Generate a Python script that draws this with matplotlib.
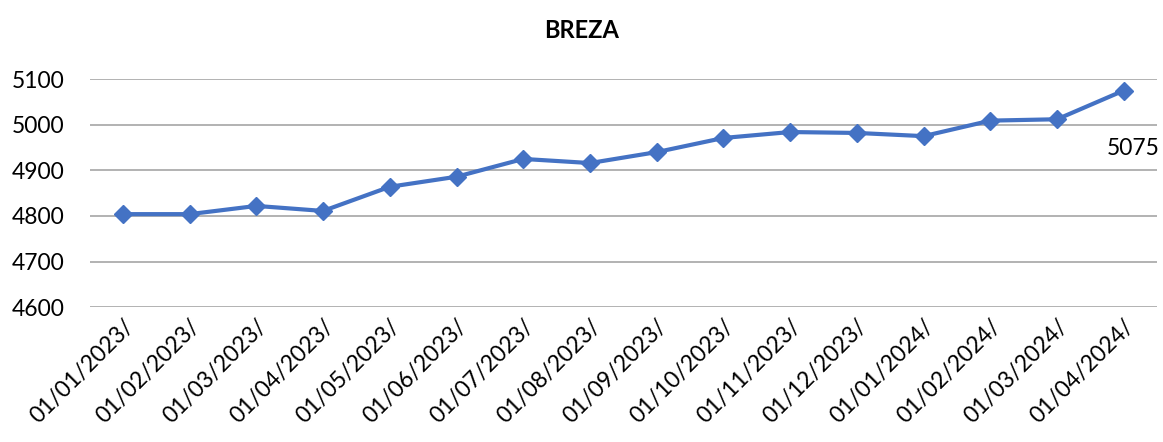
import matplotlib.pyplot as plt

dates = ['01/01/2023/', '01/02/2023/', '01/03/2023/', '01/04/2023/',
         '01/05/2023/', '01/06/2023/', '01/07/2023/', '01/08/2023/',
         '01/09/2023/', '01/10/2023/', '01/11/2023/', '01/12/2023/',
         '01/01/2024/', '01/02/2024/', '01/03/2024/', '01/04/2024/']
values = [4804, 4804, 4822, 4811, 4864, 4886, 4925, 4916,
          4940, 4971, 4984, 4982, 4975, 5009, 5012, 5075]

plt.rcParams['font.family'] = ['Lato', 'DejaVu Sans']

fig = plt.figure(figsize=(11.63, 4.42), dpi=100)
ax = fig.add_axes([0.077, 0.305, 0.918, 0.516])

x = list(range(len(values)))
ax.plot(x, values, '-D', color='#4472C4', linewidth=3, markersize=9)

ax.set_xlim(-0.5, len(values) - 0.5)
ax.set_ylim(4600, 5100)
ax.set_yticks([4600, 4700, 4800, 4900, 5000, 5100])
ax.set_xticks(x)
ax.set_xticklabels(dates, rotation=45, ha='right', rotation_mode='anchor')
ax.tick_params(axis='both', length=0, labelsize=16.5)
ax.tick_params(axis='x', pad=6)
ax.tick_params(axis='y', pad=18)

ax.grid(axis='y', color='#A6A6A6', linewidth=1.2)
ax.set_axisbelow(True)
for s in ax.spines.values():
    s.set_visible(False)

ax.annotate(str(values[-1]), (x[-1], values[-1]), xytext=(7, -42),
            textcoords='offset points', ha='center', va='center', fontsize=16.5)

fig.text(0.5, 0.93, 'BREZA', ha='center', va='center', fontsize=17,
         fontweight='bold')

fig.savefig('out.png')
